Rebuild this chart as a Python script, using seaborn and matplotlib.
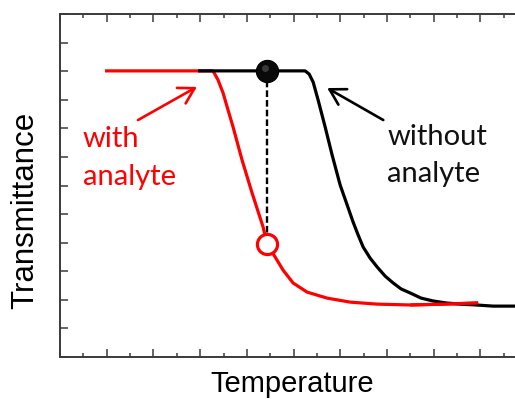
import numpy as np
import pandas as pd
import matplotlib
matplotlib.use("Agg")
import matplotlib.pyplot as plt
import seaborn as sns
from matplotlib.ticker import MultipleLocator

# ---- data (arbitrary units) ----
red_x = [0.964, 1.927, 2.784, 3.276, 3.383, 3.490, 3.597, 3.704, 3.897, 4.111, 4.347, 4.433,
         4.604, 4.775, 4.989, 5.289, 5.717, 6.210, 6.788, 7.495, 8.201, 8.951]
red_y = [10.01, 10.01, 10.01, 10.01, 9.69, 9.24, 8.64, 8.05, 6.89, 5.74, 4.55, 3.95,
         3.50, 3.04, 2.59, 2.27, 2.06, 1.92, 1.85, 1.82, 1.85, 1.89]

black_x = [2.955, 4.069, 5.246, 5.332, 5.418, 5.525, 5.675, 5.824, 5.996, 6.146, 6.274, 6.381,
           6.488, 6.638, 6.788, 6.959, 7.131, 7.302, 7.495, 7.730, 7.987, 8.266, 8.565, 8.908,
           9.272, 9.743, 10.064]
black_y = [10.01, 10.01, 10.01, 9.90, 9.62, 8.99, 8.05, 7.07, 6.02, 5.32, 4.72, 4.27,
           3.85, 3.46, 3.15, 2.83, 2.59, 2.38, 2.24, 2.06, 1.96, 1.89, 1.85, 1.82,
           1.78, 1.78, 1.78]

marker_x = [4.433]
marker_top_y = [10.01]
marker_bottom_y = [3.95]

label_with = ["with", "analyte"]
label_without = ["without", "analyte"]
x_label = "Temperature"
y_label = "Transmittance"

# ---- figure ----
sns.set_style("ticks")
W, H = 515, 399
fig = plt.figure(figsize=(W / 100, H / 100), dpi=100)
fig.patch.set_facecolor("white")
left_px, right_px, top_px, bottom_px = 60, 530, 14, 357
ax = fig.add_axes([left_px / W, (H - bottom_px) / H,
                   (right_px - left_px) / W, (bottom_px - top_px) / H])
ax.set_facecolor("white")

red_df = pd.DataFrame({"x": red_x, "y": red_y})
black_df = pd.DataFrame({"x": black_x, "y": black_y})

line_kw = dict(sort=False, linewidth=2.3, solid_joinstyle="round", solid_capstyle="butt")
sns.lineplot(data=red_df, x="x", y="y", color="#ff0000", ax=ax, zorder=3, **line_kw)
sns.lineplot(data=black_df, x="x", y="y", color="#000000", ax=ax, zorder=4, **line_kw)
# red tail lies on top of the black curve where they merge
sns.lineplot(data=red_df[red_df["x"] > 7.4], x="x", y="y", color="#ff0000", ax=ax,
             zorder=5, **line_kw)

# dashed vertical connector
ax.plot([marker_x[0], marker_x[0]], [marker_top_y[0], marker_bottom_y[0]],
        color="black", linewidth=1.7, dashes=(2.8, 1.3), zorder=2)

# markers
ax.plot(marker_x, marker_top_y, marker="o", linestyle="none", markersize=16,
        markerfacecolor="#0a0a0a", markeredgecolor="#000000", markeredgewidth=0.8, zorder=6)
ax.plot(marker_x, marker_top_y, marker="o", linestyle="none", markersize=5,
        markerfacecolor="#5a5a5a", markeredgecolor="none", alpha=0.6, zorder=7,
        transform=ax.transData + matplotlib.transforms.ScaledTranslation(-2.5 / 100, 3 / 100, fig.dpi_scale_trans))
ax.plot(marker_x, marker_bottom_y, marker="o", linestyle="none", markersize=14.5,
        markerfacecolor="white", markeredgecolor="#ff0000", markeredgewidth=2.3, zorder=6)

# arrows
ax.annotate("", xy=(2.93, 9.45), xytext=(1.67, 8.29),
            arrowprops=dict(arrowstyle="->,head_length=0.55,head_width=0.32", color="#ff0000",
                            lw=1.9, mutation_scale=20, shrinkA=0, shrinkB=0))
ax.annotate("", xy=(5.72, 9.41), xytext=(6.92, 8.29),
            arrowprops=dict(arrowstyle="->,head_length=0.55,head_width=0.32", color="#000000",
                            lw=1.9, mutation_scale=20, shrinkA=0, shrinkB=0))

ann_font = ["Lato", "DejaVu Sans"]
ax.text(0.49, 7.35, label_with[0], color="#ff0000", fontsize=21, family=ann_font, va="baseline", ha="left")
ax.text(0.49, 6.02, label_with[1], color="#ff0000", fontsize=21, family=ann_font, va="baseline", ha="left")
ax.text(7.00, 7.42, label_without[0], color="#111111", fontsize=21, family=ann_font, va="baseline", ha="left")
ax.text(7.00, 6.12, label_without[1], color="#111111", fontsize=21, family=ann_font, va="baseline", ha="left")

# axes styling
ax.set_xlim(0, 10.06)
ax.set_ylim(0, 12)
ax.xaxis.set_major_locator(MultipleLocator(1))
ax.xaxis.set_minor_locator(MultipleLocator(0.5))
ax.yaxis.set_major_locator(MultipleLocator(1))
ax.set_xticklabels([])
ax.set_yticklabels([])
spine_col = "#3a3a3a"
for s in ["left", "bottom", "top"]:
    ax.spines[s].set_visible(True)
    ax.spines[s].set_color(spine_col)
    ax.spines[s].set_linewidth(1.4)
ax.spines["right"].set_visible(False)
ax.tick_params(axis="both", which="major", direction="in", length=5.5, width=1.1,
               color=spine_col, top=True, bottom=True, left=True, right=False,
               labelbottom=False, labelleft=False)
ax.tick_params(axis="x", which="minor", direction="in", length=3, width=1.1,
               color=spine_col, top=True, bottom=True)

ax.set_xlabel(x_label, fontsize=21, family=["Liberation Sans", "DejaVu Sans"], color="black")
ax.xaxis.label.set_va("baseline")
ax.xaxis.set_label_coords((292 - left_px) / (right_px - left_px), -35 / (bottom_px - top_px))
ax.set_ylabel(y_label, fontsize=22.5, family=["Liberation Sans", "DejaVu Sans"], color="black")
ax.yaxis.label.set_va("center")
ax.yaxis.set_label_coords((25 - left_px) / (right_px - left_px), (bottom_px - 210) / (bottom_px - top_px))

fig.savefig("out.png", dpi=100, facecolor="white")
